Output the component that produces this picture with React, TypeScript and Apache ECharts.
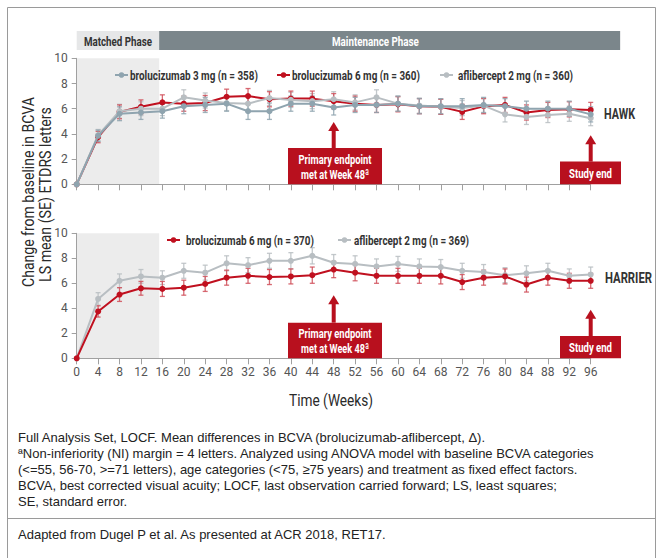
import React, { useEffect, useRef } from "react";
import * as echarts from "echarts";

const weeks = [0, 4, 8, 12, 16, 20, 24, 28, 32, 36, 40, 44, 48, 52, 56, 60, 64, 68, 72, 76, 80, 84, 88, 92, 96];

// HAWK
const hawkBro3 = [0, 3.85, 5.6, 5.7, 5.8, 6.2, 6.3, 6.4, 5.8, 5.8, 6.4, 6.4, 6.1, 6.3, 6.3, 6.4, 6.2, 6.2, 6.2, 6.3, 6.2, 6.0, 6.0, 6.0, 5.55];
const hawkBro6 = [0, 3.75, 5.75, 6.15, 6.5, 6.4, 6.45, 6.95, 7.0, 6.75, 6.8, 6.8, 6.6, 6.4, 6.3, 6.35, 6.2, 6.15, 5.75, 6.2, 6.3, 5.7, 5.9, 5.95, 5.9];
const hawkAfl = [0, 3.9, 5.8, 6.0, 6.0, 6.9, 6.65, 6.45, 6.4, 6.85, 6.7, 6.6, 6.75, 6.5, 6.9, 6.4, 6.25, 6.15, 6.05, 6.25, 5.55, 5.35, 5.5, 5.6, 5.25];
const hawkBro3SE = [0, 0.45, 0.55, 0.55, 0.55, 0.6, 0.6, 0.6, 0.65, 0.65, 0.6, 0.6, 0.6, 0.6, 0.6, 0.6, 0.6, 0.6, 0.6, 0.6, 0.6, 0.6, 0.6, 0.6, 0.6];
const hawkBro6SE = [0, 0.45, 0.55, 0.55, 0.6, 0.6, 0.6, 0.6, 0.6, 0.6, 0.6, 0.6, 0.6, 0.6, 0.6, 0.6, 0.6, 0.6, 0.6, 0.6, 0.6, 0.6, 0.6, 0.6, 0.6];
const hawkAflSE = [0, 0.45, 0.55, 0.55, 0.55, 0.6, 0.6, 0.6, 0.6, 0.6, 0.6, 0.6, 0.6, 0.6, 0.6, 0.6, 0.6, 0.6, 0.6, 0.6, 0.6, 0.6, 0.6, 0.6, 0.6];

// HARRIER
const harBro6 = [0, 3.75, 5.1, 5.6, 5.55, 5.65, 5.95, 6.45, 6.6, 6.5, 6.55, 6.65, 7.1, 6.85, 6.6, 6.6, 6.6, 6.6, 6.1, 6.45, 6.55, 5.9, 6.45, 6.2, 6.2];
const harAfl = [0, 4.75, 6.2, 6.55, 6.45, 7.0, 6.85, 7.6, 7.45, 7.8, 7.8, 8.2, 7.65, 7.55, 7.35, 7.55, 7.35, 7.3, 7.0, 6.9, 6.65, 6.8, 7.0, 6.6, 6.7];
const harBro6SE = [0, 0.45, 0.55, 0.55, 0.6, 0.6, 0.6, 0.6, 0.6, 0.6, 0.6, 0.65, 0.65, 0.65, 0.6, 0.6, 0.6, 0.65, 0.6, 0.6, 0.6, 0.6, 0.6, 0.6, 0.6];
const harAflSE = [0, 0.5, 0.55, 0.55, 0.55, 0.6, 0.6, 0.6, 0.6, 0.6, 0.65, 0.65, 0.65, 0.65, 0.6, 0.6, 0.6, 0.6, 0.6, 0.6, 0.6, 0.6, 0.6, 0.55, 0.6];

const yTicks = [0, 2, 4, 6, 8, 10];
const matchedEnd = 15.4;
const primaryWeek = 48;
const studyEndWeek = 96;

const NAMES = {
  hBro3: "brolucizumab 3 mg (n = 358)",
  hBro6: "brolucizumab 6 mg (n = 360)",
  hAfl: "aflibercept 2 mg (n = 360)",
  rBro6: "brolucizumab 6 mg (n = 370)",
  rAfl: "aflibercept 2 mg (n = 369)",
};

const C_BRO3 = "#8fa4af";
const C_RED = "#c0101f";
const C_AFL = "#b8bec2";
const C_BOX = "#b8101e";
const FAM = "Roboto";
const ARIAL = "'Liberation Sans', Arial, sans-serif";

function lineSeries(name: string, vals: number[], color: string, g: number, z: number) {
  return {
    type: "line",
    name,
    xAxisIndex: g,
    yAxisIndex: g,
    data: weeks.map((w, i) => [w, vals[i]]),
    symbol: "circle",
    symbolSize: 6,
    lineStyle: { color, width: 2 },
    itemStyle: { color },
    z,
  };
}

function errSeries(name: string, vals: number[], se: number[], color: string, g: number) {
  return {
    type: "custom",
    name: name + " SE",
    xAxisIndex: g,
    yAxisIndex: g,
    data: weeks.map((w, i) => [w, vals[i] - se[i], vals[i] + se[i]]),
    encode: { x: 0, y: [1, 2] },
    z: 1,
    renderItem: (params: any, api: any) => {
      const x = api.value(0);
      const lo = api.value(1);
      const hi = api.value(2);
      if (hi - lo <= 0) return null;
      const a = api.coord([x, lo]);
      const b = api.coord([x, hi]);
      const cw = 2.5;
      const st = { stroke: color, lineWidth: 1.3, opacity: 0.85 };
      return {
        type: "group",
        children: [
          { type: "line", shape: { x1: a[0], y1: a[1], x2: b[0], y2: b[1] }, style: st },
          { type: "line", shape: { x1: a[0] - cw, y1: a[1], x2: a[0] + cw, y2: a[1] }, style: st },
          { type: "line", shape: { x1: b[0] - cw, y1: b[1], x2: b[0] + cw, y2: b[1] }, style: st },
        ],
      };
    },
  };
}

const measureCtx = (() => {
  const c = document.createElement("canvas");
  return c.getContext("2d") as CanvasRenderingContext2D;
})();

function fitText(
  text: string,
  x: number,
  y: number,
  target: number,
  opts: { size: number; weight?: string; fill?: string; align?: string; rotation?: number; z?: number }
) {
  const weight = opts.weight || "normal";
  measureCtx.font = `${weight} ${opts.size}px ${FAM}`;
  const w = measureCtx.measureText(text).width || target;
  return {
    type: "text",
    x,
    y,
    z: opts.z ?? 5,
    rotation: opts.rotation || 0,
    scaleX: target / w,
    style: {
      text,
      x: 0,
      y: 0,
      textAlign: opts.align || "left",
      textVerticalAlign: "middle",
      fill: opts.fill || "#333",
      fontFamily: FAM,
      fontSize: opts.size,
      fontWeight: weight,
    },
  };
}

export default function App() {
  const ref = useRef<HTMLDivElement>(null);

  useEffect(() => {
    document.body.style.margin = "0";
    if (!ref.current) return;
    const chart = echarts.init(ref.current, null, { renderer: "svg" });

    const axisLine = { lineStyle: { color: "#a0a0a0", width: 1 } };

    const xAxis = (g: number, labels: boolean) => ({
      type: "value",
      gridIndex: g,
      min: 0,
      max: 96,
      interval: 4,
      axisLine,
      splitLine: { show: false },
      axisTick: { show: true, length: 6, lineStyle: { color: "#a0a0a0" } },
      axisLabel: { show: labels, fontFamily: FAM, fontSize: 12, color: "#555", margin: 8 },
    });
    const yAxis = (g: number) => ({
      type: "value",
      gridIndex: g,
      min: yTicks[0],
      max: yTicks[yTicks.length - 1],
      interval: 2,
      axisLine,
      splitLine: { show: false },
      axisTick: { show: true, length: 5, lineStyle: { color: "#a0a0a0" } },
      axisLabel: { fontFamily: FAM, fontSize: 12, color: "#555", margin: 9 },
    });

    chart.setOption({
      animation: false,
      grid: [
        { left: 76.7, width: 514, top: 58.3, height: 126 },
        { left: 76.7, width: 514, top: 233.3, height: 125 },
      ],
      xAxis: [xAxis(0, false), xAxis(1, true)],
      yAxis: [yAxis(0), yAxis(1)],
      series: [
        errSeries(NAMES.hAfl, hawkAfl, hawkAflSE, C_AFL, 0),
        errSeries(NAMES.hBro6, hawkBro6, hawkBro6SE, "#d0505b", 0),
        errSeries(NAMES.hBro3, hawkBro3, hawkBro3SE, C_BRO3, 0),
        lineSeries(NAMES.hBro6, hawkBro6, C_RED, 0, 3),
        lineSeries(NAMES.hAfl, hawkAfl, C_AFL, 0, 4),
        lineSeries(NAMES.hBro3, hawkBro3, C_BRO3, 0, 5),
        errSeries(NAMES.rAfl, harAfl, harAflSE, C_AFL, 1),
        errSeries(NAMES.rBro6, harBro6, harBro6SE, "#d0505b", 1),
        lineSeries(NAMES.rAfl, harAfl, C_AFL, 1, 3),
        lineSeries(NAMES.rBro6, harBro6, C_RED, 1, 4),
      ],
    });

    const px = (g: number, x: number, y: number) => chart.convertToPixel({ gridIndex: g } as any, [x, y]) as number[];

    const graphics: any[] = [];
    // outer frame
    const frame = { stroke: "#9a9a9a", lineWidth: 1 };
    graphics.push({ type: "line", shape: { x1: 7.5, y1: 7.5, x2: 655.5, y2: 7.5 }, style: frame });
    graphics.push({ type: "line", shape: { x1: 7.5, y1: 7.5, x2: 7.5, y2: 560 }, style: frame });
    graphics.push({ type: "line", shape: { x1: 655.5, y1: 7.5, x2: 655.5, y2: 560 }, style: frame });

    // shaded matched phase
    [0, 1].forEach((g) => {
      const a = px(g, 0, 10);
      const b = px(g, matchedEnd, 0);
      graphics.push({
        type: "rect",
        z: -1,
        shape: { x: a[0], y: a[1], width: b[0] - a[0], height: b[1] - a[1] },
        style: { fill: "#ececec" },
      });
    });

    // header bar
    const h0 = px(0, 0, 0)[0];
    const h1 = px(0, matchedEnd, 0)[0];
    const h2 = px(0, 101.5, 0)[0];
    graphics.push({ type: "rect", shape: { x: h0, y: 31, width: h1 - h0, height: 19 }, style: { fill: "#e6e7e8" } });
    graphics.push({ type: "rect", shape: { x: h1, y: 31, width: h2 - h1, height: 19 }, style: { fill: "#7b868b" } });
    graphics.push(fitText("Matched Phase", 84, 41, 68, { size: 13.5, weight: "bold", fill: "#333" }));
    graphics.push(fitText("Maintenance Phase", 332, 41, 87, { size: 13.5, weight: "bold", fill: "#fff" }));

    // legends (hand-drawn, keyed to series colours)
    const legend = (name: string, color: string, iconX: number, textX: number, textW: number, y: number) => {
      graphics.push({ type: "line", z: 6, shape: { x1: iconX, y1: y, x2: iconX + 13, y2: y }, style: { stroke: color, lineWidth: 2 } });
      graphics.push({ type: "circle", z: 6, shape: { cx: iconX + 6.5, cy: y, r: 2.8 }, style: { fill: color } });
      graphics.push(fitText(name, textX, y, textW, { size: 13.5, weight: "bold", fill: "#333" }));
    };
    legend(NAMES.hBro3, C_BRO3, 115, 130, 128, 75);
    legend(NAMES.hBro6, C_RED, 277, 292, 128, 75);
    legend(NAMES.hAfl, C_AFL, 440, 458, 115, 75);
    legend(NAMES.rBro6, C_RED, 167, 186, 128, 240);
    legend(NAMES.rAfl, C_AFL, 338, 354, 115, 240);

    // study labels
    graphics.push(fitText("HAWK", 604, px(0, 0, 5.6)[1], 31, { size: 14, weight: "bold", fill: "#333" }));
    graphics.push(fitText("HARRIER", 605, px(1, 0, 6.4)[1], 47, { size: 14, weight: "bold", fill: "#333" }));

    // annotation boxes with arrows
    const arrow = (
      g: number,
      week: number,
      boxLeft: number,
      boxRight: number,
      boxTopVal: number,
      tipVal: number,
      lines: [string, number][]
    ) => {
      const base = px(g, week, 0);
      const top = px(g, week, boxTopVal)[1];
      const tip = px(g, week, tipVal)[1];
      const cx = base[0];
      graphics.push({ type: "rect", z: 10, shape: { x: boxLeft, y: top, width: boxRight - boxLeft, height: base[1] - top }, style: { fill: C_BOX } });
      graphics.push({ type: "rect", z: 10, shape: { x: cx - 2, y: tip + 8, width: 4, height: top - tip - 8 }, style: { fill: C_BOX } });
      graphics.push({ type: "polygon", z: 10, shape: { points: [[cx, tip], [cx - 5.5, tip + 9], [cx + 5.5, tip + 9]] }, style: { fill: C_BOX } });
      const mid = (top + base[1]) / 2;
      const lh = 15;
      lines.forEach(([t, w], i) => {
        graphics.push(
          fitText(t, (boxLeft + boxRight) / 2, mid + (i - (lines.length - 1) / 2) * lh + 0.5, w, {
            size: 13.5,
            weight: "bold",
            fill: "#fff",
            align: "center",
            z: 11,
          })
        );
      });
    };
    const primaryLines: [string, number][] = [
      ["Primary endpoint", 73],
      ["met at Week 48ª", 68],
    ];
    arrow(0, primaryWeek, 288, 382, 2.88, 4.95, primaryLines);
    arrow(0, studyEndWeek, 560, 621, 1.8, 3.9, [["Study end", 43]]);
    arrow(1, primaryWeek, 288, 382, 2.85, 5.05, primaryLines);
    arrow(1, studyEndWeek, 560, 621, 1.78, 3.88, [["Study end", 43]]);

    // y axis title (two lines, rotated)
    graphics.push(fitText("Change from baseline in BCVA", 29, 192, 190, { size: 16.5, weight: "normal", fill: "#2a2a2a", align: "center", rotation: Math.PI / 2 }));
    graphics.push(fitText("LS mean (SE) ETDRS letters", 46, 194.5, 175, { size: 16.5, weight: "normal", fill: "#2a2a2a", align: "center", rotation: Math.PI / 2 }));
    // x axis title
    graphics.push(fitText("Time (Weeks)", 331, 401, 84, { size: 16, weight: "normal", fill: "#2a2a2a", align: "center" }));

    // footnotes
    const notes = [
      "Full Analysis Set, LOCF. Mean differences in BCVA (brolucizumab-aflibercept, \u0394).",
      "ªNon-inferiority (NI) margin = 4 letters. Analyzed using ANOVA model with baseline BCVA categories",
      "(<=55, 56-70, >=71 letters), age categories (<75, \u226575 years) and treatment as fixed effect factors.",
      "BCVA, best corrected visual acuity; LOCF, last observation carried forward; LS, least squares;",
      "SE, standard error.",
    ];
    notes.forEach((t, i) => {
      graphics.push({
        type: "text",
        style: { text: t, x: 18, y: 437 + i * 16, textAlign: "left", textVerticalAlign: "middle", fill: "#222", fontFamily: ARIAL, fontSize: 13 },
      });
    });
    graphics.push({ type: "line", shape: { x1: 7.5, y1: 518.5, x2: 655.5, y2: 518.5 }, style: { stroke: "#9a9a9a", lineWidth: 1 } });
    graphics.push({
      type: "text",
      style: { text: "Adapted from Dugel P et al. As presented at ACR 2018, RET17.", x: 18, y: 534, textAlign: "left", textVerticalAlign: "middle", fill: "#222", fontFamily: ARIAL, fontSize: 13 },
    });

    chart.setOption({ graphic: graphics });

    return () => chart.dispose();
  }, []);

  return <div ref={ref} style={{ width: 662, height: 558 }} />;
}
